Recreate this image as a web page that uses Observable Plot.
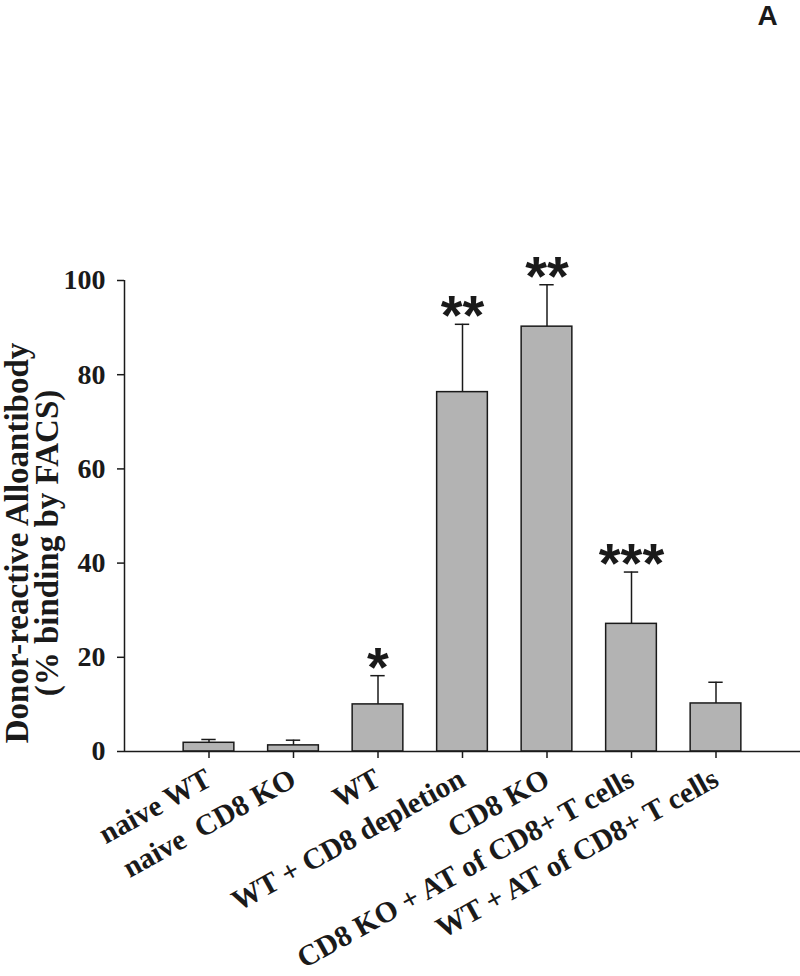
<!DOCTYPE html>
<html><head><meta charset="utf-8">
<script src="https://cdn.jsdelivr.net/npm/d3@7"></script>
<script src="https://cdn.jsdelivr.net/npm/@observablehq/plot@0.6"></script>
<style>body{margin:0;background:#fff} svg{display:block}</style>
</head><body><div id="chart"></div>
<script>
const groups = ["naive WT", "naive\u00A0 CD8 KO", "WT", "WT + CD8 depletion", "CD8 KO", "CD8 KO + AT of CD8+ T cells", "WT + AT of CD8+ T cells"];
const means = [1.85, 1.3, 10.0, 76.3, 90.2, 27.1, 10.2];
const errors = [0.7, 1.1, 6.1, 14.4, 8.9, 11.0, 4.5];
const stars = ["", "", "*", "**", "**", "***", ""];
const yTicks = [0, 20, 40, 60, 80, 100];
const yTitle = "Donor-reactive Alloantibody\n(% binding by FACS)";
const panel = "A";

const data = groups.map((g, i) => ({pos: i + 1, g, mean: means[i], err: errors[i], star: stars[i]}));
const hw = 0.3, cap = 0.085;
const ink = "#1a1a1a";

const chart = Plot.plot({
  width: 800, height: 976,
  marginLeft: 124, marginRight: 0, marginTop: 280, marginBottom: 225,
  style: {fontFamily: "'Liberation Serif', 'Times New Roman', serif", fontWeight: "bold", background: "#fff", color: ink},
  x: {domain: [0, 8]},
  y: {domain: [0, 100]},
  marks: [
    Plot.ruleX(data, {x: "pos", y1: "mean", y2: d => d.mean + d.err, stroke: ink, strokeWidth: 1.5}),
    Plot.ruleY(data, {x1: d => d.pos - cap, x2: d => d.pos + cap, y: d => d.mean + d.err, stroke: ink, strokeWidth: 1.5}),
    Plot.rect(data, {x1: d => d.pos - hw, x2: d => d.pos + hw, y1: 0, y2: "mean", fill: "#b3b3b3", stroke: ink, strokeWidth: 1.5}),
    Plot.text(data, {x: "pos", y: d => d.mean + d.err, text: "star", fontFamily: "'Liberation Sans', Arial, sans-serif", fontWeight: "bold", fontSize: 56, lineAnchor: "bottom", dy: 10}),
    Plot.ruleY([0], {stroke: ink, strokeWidth: 1.5}),
    Plot.ruleX([0], {stroke: ink, strokeWidth: 1.5}),
    Plot.axisY({ticks: yTicks, tickSize: 7, tickPadding: 12, fontSize: 28, label: null, tickFormat: d => d, strokeWidth: 1.5}),
    Plot.axisX({ticks: [1, 2, 3, 4, 5, 6, 7], tickFormat: i => groups[i - 1], tickRotate: -29, tickSize: 7, tickPadding: 18, fontSize: 29.5, label: null, strokeWidth: 1.5}),
    Plot.text([yTitle], {frameAnchor: "left", rotate: -90, textAnchor: "middle", dx: -91, dy: 27, fontSize: 33, lineHeight: 0.9}),
    Plot.text([panel], {frameAnchor: "top-right", textAnchor: "middle", lineAnchor: "bottom", dx: -33, dy: -256, fontFamily: "'Liberation Sans', Arial, sans-serif", fontWeight: "bold", fontSize: 28})
  ]
});
document.getElementById("chart").append(chart);
</script>
</body></html>
